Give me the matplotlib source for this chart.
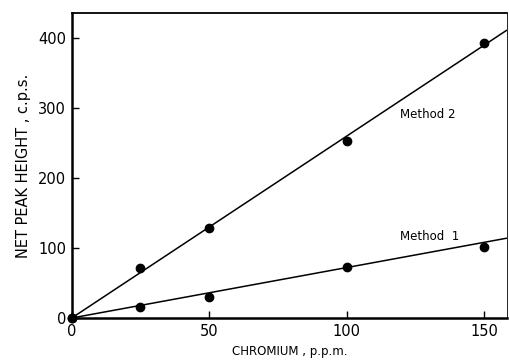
import matplotlib
matplotlib.use("Agg")
import matplotlib.pyplot as plt

# Data
chromium = [0, 25, 50, 100, 150]
method1 = [0, 16, 30, 73, 102]
method2 = [0, 71, 129, 253, 392]
fit_x = [0, 158.3]
fit_method1 = [0, 114]
fit_method2 = [0, 411]
x_ticks = [0, 50, 100, 150]
y_ticks = [0, 100, 200, 300, 400]

plt.rcParams['font.family'] = ['DejaVu Sans']

fig = plt.figure(figsize=(5.1, 3.62), dpi=100)
ax = fig.add_axes([0.1406, 0.1215, 0.994 - 0.1406, 0.9633 - 0.1215])

ax.plot(fit_x, fit_method2, color='black', lw=1.1, solid_capstyle='butt')
ax.plot(fit_x, fit_method1, color='black', lw=1.1, solid_capstyle='butt')
ax.plot(chromium, method2, 'o', color='black', ms=6, clip_on=False, zorder=5)
ax.plot(chromium, method1, 'o', color='black', ms=6, clip_on=False, zorder=5)

ax.text(119.5, 290, 'Method 2', fontsize=8.5, va='center', ha='left')
ax.text(119.5, 117, 'Method  1', fontsize=8.5, va='center', ha='left')

ax.set_xlim(0, 158.3)
ax.set_ylim(0, 435)
ax.set_xticks(x_ticks)
ax.set_yticks(y_ticks)
ax.tick_params(direction='in', length=5, width=1, labelsize=10.5, pad=4)

ax.set_xlabel('CHROMIUM , p.p.m.', fontsize=8.5, labelpad=4.5)
ax.set_ylabel('NET PEAK HEIGHT , c.p.s.', fontsize=10.5, labelpad=5)

ax.spines['left'].set_linewidth(1.8)
ax.spines['bottom'].set_linewidth(1.8)
ax.spines['top'].set_linewidth(1.3)
ax.spines['right'].set_linewidth(0.6)

fig.savefig('out.png', dpi=100)
